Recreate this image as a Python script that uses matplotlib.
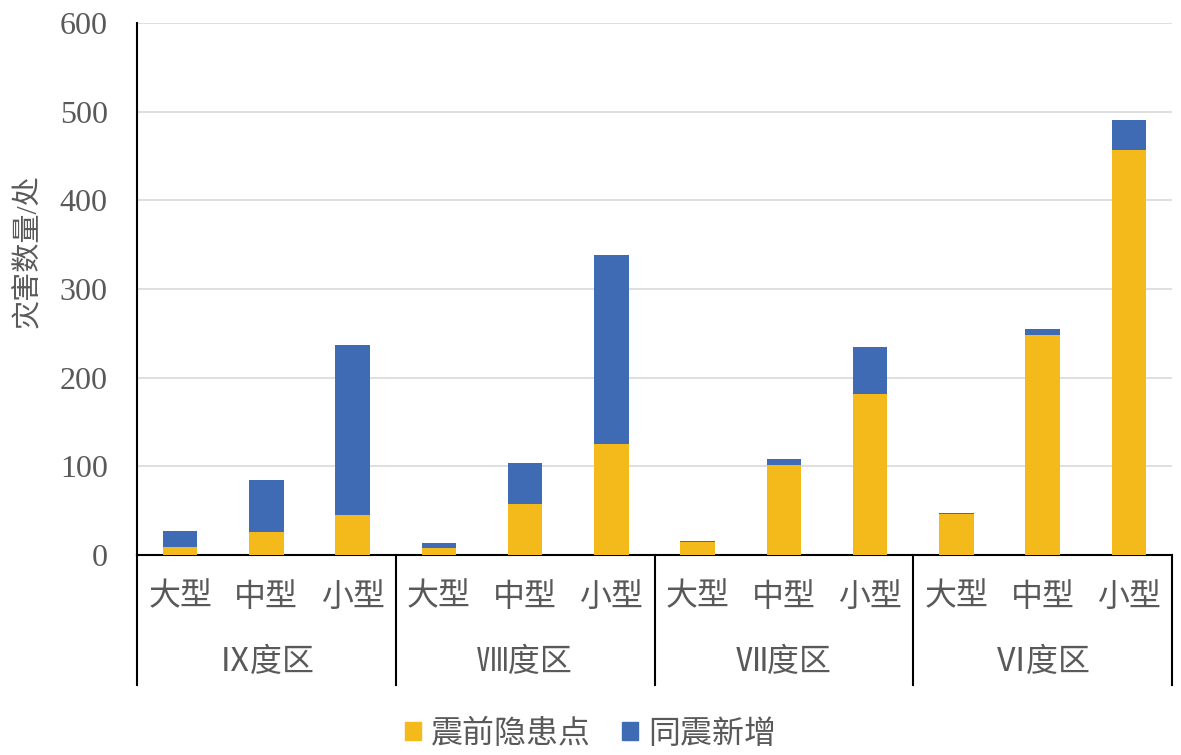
import matplotlib
matplotlib.use("Agg")
import matplotlib.pyplot as plt
from matplotlib.patches import Patch
import matplotlib.transforms as mtransforms

plt.rcParams['font.family'] = ['Liberation Serif', 'Noto Sans CJK SC', 'DejaVu Sans']

# data
zones = ['Ⅸ度区', 'Ⅷ度区', 'Ⅶ度区', 'Ⅵ度区']
sizes = ['大型', '中型', '小型']
pre_quake = [9, 26, 45, 8, 58, 125, 15, 101, 182, 46, 248, 457]
new_quake = [18, 59, 192, 5, 46, 213, 1, 7, 53, 1, 7, 34]
series_names = ['震前隐患点', '同震新增']
y_ticks = [0, 100, 200, 300, 400, 500, 600]

orange = '#F4B91A'
blue = '#3E6BB3'
text_col = '#595959'

fig = plt.figure(figsize=(11.81, 7.55), dpi=100)
ax = fig.add_axes([0.116, 0.2649, 0.8764, 0.7046])

x = [i + 0.5 for i in range(len(pre_quake))]
ax.bar(x, pre_quake, width=0.4, color=orange, zorder=3)
ax.bar(x, new_quake, width=0.4, bottom=pre_quake, color=blue, zorder=3)

ax.set_xlim(0, 12)
ax.set_ylim(0, 600)
ax.set_yticks(y_ticks)
ax.set_yticklabels([str(v) for v in y_ticks], fontsize=23, color=text_col)
ax.tick_params(axis='y', length=0, pad=21)
ax.set_xticks([])
ax.yaxis.grid(True, color='#D9D9D9', linewidth=1.2, zorder=0)
for s in ['top', 'right']:
    ax.spines[s].set_visible(False)
ax.spines['left'].set_color('black')
ax.spines['left'].set_linewidth(1.5)
ax.spines['bottom'].set_color('black')
ax.spines['bottom'].set_linewidth(1.5)
ax.set_ylabel('灾害数量/处', fontsize=21, color=text_col)
ax.yaxis.set_label_coords(-0.092, 0.571)

# multi-level category axis
trans = mtransforms.blended_transform_factory(ax.transData, ax.transAxes)
low = -130 / 532
for gx in [0, 3, 6, 9, 12]:
    ax.plot([gx, gx], [0, low], transform=trans, color='black', lw=1.5, clip_on=False)
for i, xi in enumerate(x):
    ax.text(xi, -43 / 532, sizes[i % 3], transform=trans, ha='center', va='center',
            fontsize=23, color=text_col)
for g, name in enumerate(zones):
    ax.text(g * 3 + 1.5, -108 / 532, name, transform=trans, ha='center', va='center',
            fontsize=23, color=text_col)

handles = [Patch(color=orange), Patch(color=blue)]
leg = fig.legend(handles, series_names, loc='center', bbox_to_anchor=(0.5, 0.027),
                 ncol=2, frameon=False, fontsize=23, handlelength=0.5, handleheight=0.5,
                 handletextpad=0.3, columnspacing=1.0)
for t in leg.get_texts():
    t.set_color(text_col)

fig.savefig('out.png', dpi=100)
